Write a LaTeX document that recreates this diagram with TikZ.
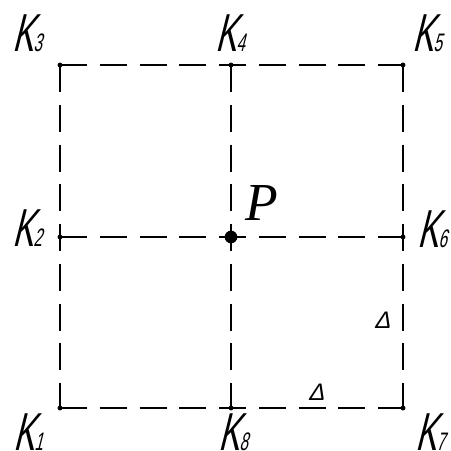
\documentclass[tikz,border=0pt]{standalone}
\usepackage{fontspec}
\newfontfamily\gostfont[FakeSlant=0.25,FakeStretch=0.6]{Liberation Sans}
\newfontfamily\deltafont[FakeSlant=0.25]{Liberation Sans}
\newfontfamily\pfont{Liberation Serif}

\newcommand{\kl}[1]{K{\fontsize{18}{18}\selectfont #1}}

\begin{document}
\begin{tikzpicture}[
    x=0.025cm, y=-0.025cm,
    gridline/.style={line width=0.8pt, dash pattern=on 0.675cm off 0.319cm},
    knot/.style={circle, fill, inner sep=0pt, minimum size=3.5pt},
    klabel/.style={font=\gostfont\fontsize{38}{38}\selectfont, inner sep=0pt},
    dlabel/.style={font=\deltafont\fontsize{17}{17}\selectfont, inner sep=0pt}
]
    \useasboundingbox (0,0) rectangle (451,451);

    % corner and middle points
    \coordinate (k1) at (60,408);
    \coordinate (k2) at (60,237);
    \coordinate (k3) at (60,65);
    \coordinate (k4) at (231,65);
    \coordinate (k5) at (403,65);
    \coordinate (k6) at (403,237);
    \coordinate (k7) at (403,408);
    \coordinate (k8) at (231,408);
    \coordinate (p) at (231,237);

    \draw[gridline] (k3) -- (k5);
    \draw[gridline] (k2) -- (k6);
    \draw[gridline] (k1) -- (k7);
    \draw[gridline] (k3) -- (k1);
    \draw[gridline] (k4) -- (k8);
    \draw[gridline] (k5) -- (k7);

    \foreach \k in {k1,k2,k3,k4,k5,k6,k7,k8}
        \node[knot] at (\k) {};
    \node[knot, minimum size=9pt] (pdot) at (p) {};

    \node[klabel] (lk1) at (28,432) {\kl{1}};
    \node[klabel] (lk2) at (27,228) {\kl{2}};
    \node[klabel] (lk3) at (27,33) {\kl{3}};
    \node[klabel] (lk4) at (230,33) {\kl{4}};
    \node[klabel] (lk5) at (427,33) {\kl{5}};
    \node[klabel] (lk6) at (432,229) {\kl{6}};
    \node[klabel] (lk7) at (430,432) {\kl{7}};
    \node[klabel] (lk8) at (233,432) {\kl{8}};

    \node[inner sep=0pt, font=\pfont\itshape\fontsize{38}{38}\selectfont]
        (lp) at (262,203) {P};

    \node[dlabel] (d1) at (382,320) {Δ};
    \node[dlabel] (d2) at (316,392) {Δ};
\end{tikzpicture}
\end{document}
